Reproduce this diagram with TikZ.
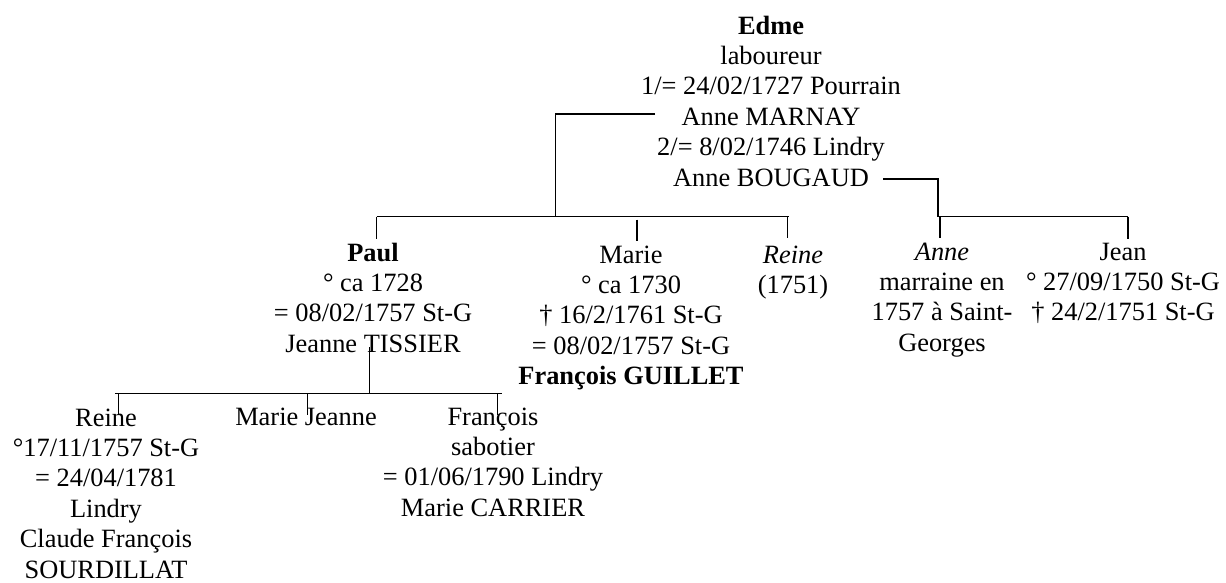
\documentclass[tikz,border=0pt]{standalone}
\usepackage{fontspec}
\setmainfont{Liberation Serif}
\newcommand{\blk}[1]{\begin{tabular}[t]{@{}c@{}}#1\end{tabular}}
\begin{document}
\begin{tikzpicture}[x=1pt,y=-1pt,
  person/.style={anchor=base,inner sep=0pt,font=\fontsize{26.4}{30.4}\selectfont},
  link/.style={line width=1.9pt}]
\useasboundingbox (0,0) rectangle (1226,582);
% persons
\node[person] (edme) at (771,34) {\blk{\textbf{Edme}\\laboureur\\1/= 24/02/1727 Pourrain\\Anne MARNAY\\2/= 8/02/1746 Lindry\\Anne BOUGAUD}};
\node[person] (paul) at (373,261) {\blk{\textbf{Paul}\\° ca 1728\\= 08/02/1757 St-G\\Jeanne TISSIER}};
\node[person] (marie) at (631,263) {\blk{Marie\\° ca 1730\\† 16/2/1761 St-G\\= 08/02/1757 St-G\\\textbf{François GUILLET}}};
\node[person] (reinea) at (793,263) {\blk{\textit{Reine}\\(1751)}};
\node[person] (anne) at (942,260) {\blk{\textit{Anne}\\marraine en\\1757 à Saint-\\Georges}};
\node[person] (jean) at (1123,260) {\blk{Jean\\° 27/09/1750 St-G\\† 24/2/1751 St-G}};
\node[person] (reineb) at (106,426) {\blk{Reine\\°17/11/1757 St-G\\= 24/04/1781\\Lindry\\Claude François\\SOURDILLAT}};
\node[person] (mj) at (306,425) {\blk{Marie Jeanne}};
\node[person] (fr) at (493,425) {\blk{François\\sabotier\\= 01/06/1790 Lindry\\Marie CARRIER}};
% connector points
\coordinate (m1) at (655,114);
\coordinate (j1) at (555.5,216.5);
\coordinate (m2) at (883,179);
\coordinate (j2) at (938,216.5);
\coordinate (b1l) at (376.5,216.5);
\coordinate (b1r) at (789,216.5);
\coordinate (b2r) at (1128,216.5);
\coordinate (tpaul) at (376.5,239);
\coordinate (tmariea) at (637,219.5);
\coordinate (tmarieb) at (637,241);
\coordinate (treinea) at (787.5,237.5);
\coordinate (tannea) at (940,216.5);
\coordinate (tanneb) at (940,238);
\coordinate (tjean) at (1128,239);
\coordinate (p1) at (369.5,347);
\coordinate (j3) at (369.5,393.5);
\coordinate (b3l) at (115,393.5);
\coordinate (b3r) at (502,393.5);
\coordinate (treinebt) at (118.5,393.5);
\coordinate (treineb) at (118.5,414);
\coordinate (tmjt) at (307.5,393.5);
\coordinate (tmj) at (307.5,415);
\coordinate (tfrt) at (497.5,393.5);
\coordinate (tfr) at (497.5,415);
% connectors
\draw[link] (m1) -| (j1);
\draw[link] (m2) -| (j2);
\draw[link] (b1l) -- (b1r);
\draw[link] (j2) -- (b2r);
\draw[link] (b1l) -- (tpaul);
\draw[link] (tmariea) -- (tmarieb);
\draw[link] (b1r) ++(-1.5,0) -- (treinea);
\draw[link] (tannea) -- (tanneb);
\draw[link] (b2r) -- (tjean);
\draw[link] (p1) -- (j3);
\draw[link] (b3l) -- (b3r);
\draw[link] (treinebt) -- (treineb);
\draw[link] (tmjt) -- (tmj);
\draw[link] (tfrt) -- (tfr);
\end{tikzpicture}
\end{document}
